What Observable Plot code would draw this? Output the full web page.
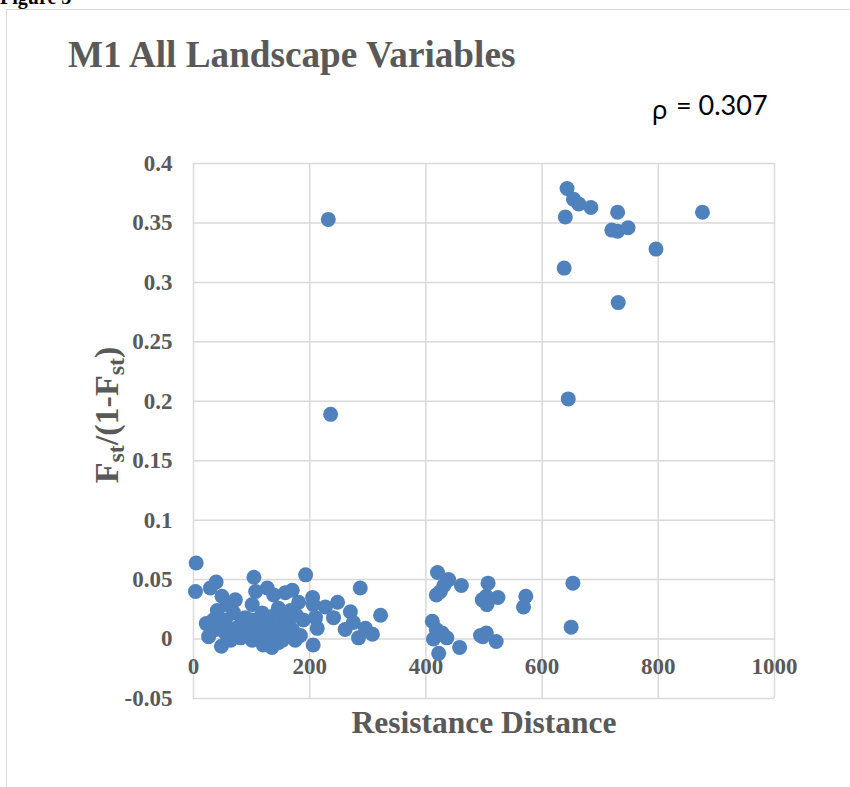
<!DOCTYPE html>
<html>
<head>
<meta charset="utf-8">
<script src="https://cdn.jsdelivr.net/npm/d3@7"></script>
<script src="https://cdn.jsdelivr.net/npm/@observablehq/plot@0.6"></script>
<style>
  html, body { margin: 0; padding: 0; background: #fff; }
  #wrap { position: relative; width: 850px; height: 787px; overflow: hidden; }
  #frame { position: absolute; left: 6px; top: 9px; width: 900px; height: 900px; border: 1px solid #d9d9d9; box-sizing: border-box; }
  #wrap svg { position: absolute; left: 0; top: 0; }
</style>
</head>
<body>
<div id="wrap"><div id="frame"></div></div>
<script>
// ---- data ----
const chartTitle = "M1 All Landscape Variables";
const rhoLabel = "= 0.307";
const xAxisTitle = "Resistance Distance";

const xTicks = [0, 200, 400, 600, 800, 1000];
const xTickLabels = ["0", "200", "400", "600", "800", "1000"];
const yTicks = [0.4, 0.35, 0.3, 0.25, 0.2, 0.15, 0.1, 0.05, 0, -0.05];
const yTickLabels = ["0.4", "0.35", "0.3", "0.25", "0.2", "0.15", "0.1", "0.05", "0", "-0.05"];

// Resistance distance (x) and Fst/(1-Fst) (y), pairwise
const resistanceDistance = [
  4.6, 3.4, 29, 39, 49, 58, 41, 22, 26, 48,
  104, 107, 101, 127, 138, 158, 170, 193, 181, 205,
  206, 189, 210, 213, 206, 227, 248, 241, 270, 287,
  261, 275, 284, 296, 308, 322, 118, 135, 55, 67,
  89, 101, 120, 135, 153, 161, 163, 110, 126, 81,
  69, 72, 89, 141, 146, 167, 177, 81, 64, 95,
  115, 132, 146, 38, 34, 43, 55, 74, 101, 155,
  124, 184, 175, 170,
  420, 439, 431, 461, 418, 425, 507, 497, 505, 524,
  504, 572, 568, 653, 650, 411, 418, 428, 436, 413,
  422, 458, 494, 504, 521, 498,
  643, 654, 663, 684, 640, 730, 876, 720, 730, 748,
  796, 638, 731, 645, 232, 236
];
const fstRatio = [
  0.064, 0.040, 0.043, 0.048, 0.036, 0.029, 0.024, 0.013, 0.002, -0.006,
  0.052, 0.040, 0.029, 0.043, 0.037, 0.039, 0.041, 0.054, 0.031, 0.035,
  0.029, 0.016, 0.018, 0.009, -0.005, 0.027, 0.031, 0.018, 0.023, 0.043,
  0.008, 0.014, 0.001, 0.009, 0.004, 0.020, 0.022, 0.019, 0.016, 0.006,
  0.003, -0.001, -0.005, -0.007, -0.001, 0.005, 0.014, 0.011, 0.008, 0.012,
  0.022, 0.033, 0.018, 0.008, 0.026, 0.024, 0.020, 0.001, -0.001, 0.008,
  0.003, -0.001, -0.003, 0.008, 0.016, 0.012, 0.005, 0.009, 0.016, 0.016,
  0.014, 0.003, -0.001, 0.008,
  0.056, 0.050, 0.045, 0.045, 0.037, 0.040, 0.047, 0.033, 0.029, 0.035,
  0.036, 0.036, 0.027, 0.047, 0.010, 0.015, 0.008, 0.005, 0.001, 0.000,
  -0.012, -0.007, 0.003, 0.005, -0.002, 0.002,
  0.379, 0.370, 0.366, 0.363, 0.355, 0.359, 0.359, 0.344, 0.343, 0.346,
  0.328, 0.312, 0.283, 0.202, 0.353, 0.189
];

const points = resistanceDistance.map((x, i) => ({x, y: fstRatio[i]}));
const xTickData = xTicks.map((v, i) => ({v, label: xTickLabels[i]}));
const yLabelMap = new Map(yTicks.map((v, i) => [v, yTickLabels[i]]));

const serif = "'Liberation Serif', 'Times New Roman', serif";
const grey = "#595959";
const gridColor = "#d9d9d9";

const chart = Plot.plot({
  width: 850,
  height: 787,
  marginLeft: 193,
  marginRight: 76,
  marginTop: 163,
  marginBottom: 89,
  style: {background: "transparent", fontFamily: serif, overflow: "visible"},
  x: {domain: [0, 1000], axis: null},
  y: {domain: [-0.05, 0.4], axis: null},
  marks: [
    Plot.gridX(xTicks, {stroke: gridColor, strokeOpacity: 1, strokeWidth: 1.5}),
    Plot.gridY(yTicks, {stroke: gridColor, strokeOpacity: 1, strokeWidth: 1.5}),
    Plot.axisY(yTicks, {
      tickSize: 0, tickPadding: 21, label: null,
      tickFormat: d => yLabelMap.get(d),
      fontSize: 23, fontWeight: "bold", fill: grey
    }),
    Plot.text(xTickData, {
      x: "v", y: () => 0, text: "label", dy: 28,
      fontSize: 23, fontWeight: "bold", fill: grey, fontFamily: serif
    }),
    Plot.dot(points, {x: "x", y: "y", r: 7.5, fill: "#4f81bd", stroke: null})
  ]
});

document.getElementById("wrap").appendChild(chart);

const svg = d3.select(chart);
// figure caption fragment at very top
svg.append("text").attr("x", 0).attr("y", 4).attr("text-anchor", "start")
  .attr("font-family", serif).attr("font-weight", "bold").attr("font-size", 20)
  .attr("fill", "#000").text("Figure 3");
// title
svg.append("text").attr("x", 68).attr("y", 67).attr("text-anchor", "start")
  .attr("font-family", serif).attr("font-weight", "bold").attr("font-size", 37.2)
  .attr("fill", grey).text(chartTitle);
// rho annotation
const rho = svg.append("text").attr("x", 652).attr("y", 119).attr("text-anchor", "start").attr("fill", "#000");
rho.append("tspan").attr("font-family", "'Noto Sans', 'DejaVu Sans', sans-serif").attr("font-size", 26).text("ρ");
rho.append("tspan").attr("x", 676).attr("y", 115).attr("font-family", "Lato, 'Noto Sans', sans-serif").attr("font-size", 27).text(rhoLabel);
// x axis title
svg.append("text").attr("x", 484).attr("y", 733).attr("text-anchor", "middle")
  .attr("font-family", serif).attr("font-weight", "bold").attr("font-size", 31.5)
  .attr("fill", grey).text(xAxisTitle);
// y axis title with subscripts
const yt = svg.append("text")
  .attr("transform", "translate(118,415) rotate(-90)")
  .attr("text-anchor", "middle")
  .attr("font-family", serif).attr("font-weight", "bold").attr("font-size", 34)
  .attr("fill", grey);
yt.append("tspan").text("F");
yt.append("tspan").attr("font-size", 24).attr("dy", 6).text("st");
yt.append("tspan").attr("dy", -6).text("/(1-F");
yt.append("tspan").attr("font-size", 24).attr("dy", 6).text("st");
yt.append("tspan").attr("dy", -6).text(")");
</script>
</body>
</html>
